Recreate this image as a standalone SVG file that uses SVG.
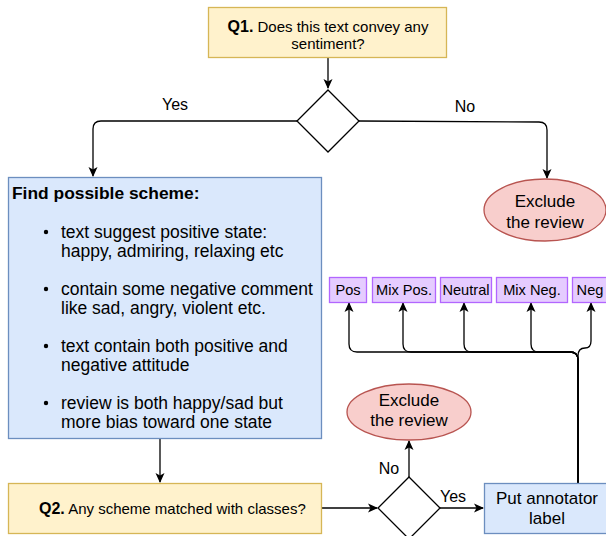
<svg xmlns="http://www.w3.org/2000/svg" width="606" height="536" viewBox="0 0 606 536">
<style>
text{font-family:"Liberation Sans",Arial,sans-serif;fill:#000}
.yellow{fill:#fff2cc;stroke:#d6b656;stroke-width:1.3}
.blue{fill:#dae8fc;stroke:#6c8ebf;stroke-width:1.3}
.red{fill:#f8cecc;stroke:#b85450;stroke-width:1.3}
.purple{fill:#e5ccff;stroke:#b266ff;stroke-width:1.3}
.dia{fill:#fff;stroke:#000;stroke-width:1.3}
.edge{fill:none;stroke:#000;stroke-width:1.3}
.lbl{font-size:16px;text-anchor:middle}
.cls{font-size:14.6px;text-anchor:middle}
.big{font-size:17px}
.mid{text-anchor:middle}
</style>
<defs>
<marker id="arr" viewBox="0 0 10 10" refX="9" refY="5" markerWidth="10" markerHeight="10" markerUnits="userSpaceOnUse" orient="auto">
<path d="M0,0.5 L10,5 L0,9.5 L2.5,5 z" fill="#000"/>
</marker>
</defs>
<g id="connectors">
<path class="edge" d="M328,58 L328,88" marker-end="url(#arr)"/>
<path class="edge" d="M297,121 L101,121 Q93,121 93,129 L93,176" marker-end="url(#arr)"/>
<path class="edge" d="M359,121 L539,122 Q547,122 547,130 L547,178" marker-end="url(#arr)"/>
<path class="edge" d="M160,439 L160,482" marker-end="url(#arr)"/>
<path class="edge" d="M322,508 L377,508" marker-end="url(#arr)"/>
<path class="edge" d="M440,508 L483,508" marker-end="url(#arr)"/>
<path class="edge" d="M409,477 L409,441" marker-end="url(#arr)"/>
<path class="edge" d="M578,483 L578,360 Q578,352 570,352 L357,352 Q349,352 349,344 L349,303" marker-end="url(#arr)"/>
<path class="edge" d="M578,483 L578,360 Q578,352 570,352 L411,352 Q403,352 403,344 L403,303" marker-end="url(#arr)"/>
<path class="edge" d="M578,483 L578,360 Q578,352 570,352 L472,352 Q464,352 464,344 L464,303" marker-end="url(#arr)"/>
<path class="edge" d="M578,483 L578,360 Q578,352 570,352 L539,352 Q531,352 531,344 L531,303" marker-end="url(#arr)"/>
<path class="edge" d="M578,483 L578,356 Q578,348 585,348 Q591,348 591,341 L591,303" marker-end="url(#arr)"/>
<text class="lbl" x="175" y="110">Yes</text>
<text class="lbl" x="465" y="112">No</text>
<text class="lbl" x="389" y="474">No</text>
<text class="lbl" x="453" y="502">Yes</text>
</g>
<g id="q1">
<rect class="yellow" x="208.5" y="7.5" width="238" height="50"/>
<text class="mid" x="328" y="32"><tspan font-weight="bold" font-size="16">Q1.</tspan><tspan font-size="15"> Does this text convey any</tspan></text>
<text class="mid" x="328" y="49" font-size="15">sentiment?</text>
</g>
<g id="decision1">
<polygon class="dia" points="328,90 359,121 328,152 297,121"/>
</g>
<g id="exclude1">
<ellipse class="red" cx="545" cy="210" rx="61" ry="31"/>
<text class="big mid" x="545" y="207">Exclude</text>
<text class="big mid" x="545" y="228">the review</text>
</g>
<g id="scheme">
<rect class="blue" x="8.5" y="177.5" width="313" height="261"/>
<text x="12" y="199" font-size="17.4" font-weight="bold">Find possible scheme:</text>
<g font-size="17.5">
<circle cx="46" cy="232" r="2.2"/>
<text x="61" y="238">text suggest positive state:</text>
<text x="61" y="257">happy, admiring, relaxing etc</text>
<circle cx="46" cy="289" r="2.2"/>
<text x="61" y="295">contain some negative comment</text>
<text x="61" y="314">like sad, angry, violent etc.</text>
<circle cx="46" cy="346" r="2.2"/>
<text x="61" y="352">text contain both positive and</text>
<text x="61" y="371">negative attitude</text>
<circle cx="46" cy="403" r="2.2"/>
<text x="61" y="409">review is both happy/sad but</text>
<text x="61" y="428">more bias toward one state</text>
</g>
</g>
<g id="pos">
<rect class="purple" x="329.5" y="277.5" width="37" height="25"/>
<text class="cls" x="348" y="295">Pos</text>
</g>
<g id="mixpos">
<rect class="purple" x="372.5" y="277.5" width="63" height="25"/>
<text class="cls" x="404" y="295">Mix Pos.</text>
</g>
<g id="neutral">
<rect class="purple" x="440.5" y="277.5" width="51" height="25"/>
<text class="cls" x="466" y="295">Neutral</text>
</g>
<g id="mixneg">
<rect class="purple" x="496.5" y="277.5" width="71" height="25"/>
<text class="cls" x="532" y="295">Mix Neg.</text>
</g>
<g id="neg">
<rect class="purple" x="572.5" y="277.5" width="38" height="25"/>
<text class="cls" x="590" y="295">Neg</text>
</g>
<g id="exclude2">
<ellipse class="red" cx="409" cy="412" rx="62" ry="28"/>
<text class="big mid" x="409" y="406">Exclude</text>
<text class="big mid" x="409" y="426">the review</text>
</g>
<g id="q2">
<rect class="yellow" x="8.5" y="483.5" width="313" height="50"/>
<text x="39" y="514"><tspan font-weight="bold" font-size="16">Q2.</tspan><tspan font-size="15"> Any scheme matched with classes?</tspan></text>
</g>
<g id="decision2">
<polygon class="dia" points="409,477 440,508 409,539 378,508"/>
</g>
<g id="annotate">
<rect class="blue" x="484.5" y="483.5" width="126" height="50"/>
<text class="big mid" x="547" y="504">Put annotator</text>
<text class="big mid" x="547" y="524">label</text>
</g>
</svg>
